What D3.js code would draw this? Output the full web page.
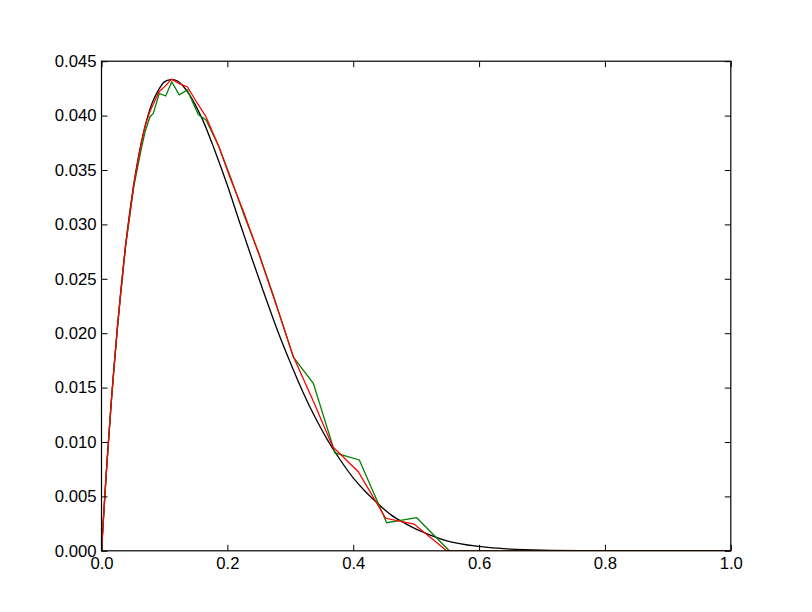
<!DOCTYPE html>
<html>
<head>
<meta charset="utf-8">
<script src="https://cdn.jsdelivr.net/npm/d3@7"></script>
<style>
  html, body { margin: 0; padding: 0; background: #fff; }
  svg { display: block; }
  .tick text { font-family: "Liberation Sans", Arial, sans-serif; font-size: 16.7px; fill: #000; }
  .tick line { stroke: #000; stroke-width: 1; }
</style>
</head>
<body>
<script>
// ---- data ----
const xTicks = [0.0, 0.2, 0.4, 0.6, 0.8, 1.0];
const yTicks = [0.000, 0.005, 0.010, 0.015, 0.020, 0.025, 0.030, 0.035, 0.040, 0.045];

// smooth black curve
const blackX = [0, 0.005, 0.01, 0.02, 0.03, 0.04, 0.05, 0.06, 0.07, 0.08, 0.09, 0.10, 0.11, 0.12, 0.13, 0.14, 0.16,
                0.18, 0.20, 0.22, 0.24, 0.26, 0.28, 0.30, 0.32, 0.34, 0.36, 0.38, 0.40, 0.42, 0.44, 0.46, 0.48,
                0.50, 0.55, 0.60, 0.65, 0.70, 0.80, 0.90, 1.00];
const blackY = [0, 0.0048, 0.0092, 0.0170, 0.0235, 0.0289, 0.0332, 0.0366, 0.0392, 0.0411, 0.0423, 0.0431, 0.0433,
                0.0432, 0.0427, 0.0419, 0.0397, 0.0368, 0.0336, 0.0301, 0.0267, 0.0234, 0.0202, 0.0173, 0.0146,
                0.0122, 0.0101, 0.0083, 0.0067, 0.0054, 0.0043, 0.0033, 0.0026, 0.0020, 0.0009, 0.0004,
                0.00015, 0.00005, 0.0, 0.0, 0.0];

// green (jagged) line
const greenX = [0, 0.0023, 0.0079, 0.0155, 0.0256, 0.0381, 0.0514, 0.0627, 0.0692, 0.0771, 0.0823, 0.0918, 0.102,
                0.1116, 0.1236, 0.1363, 0.1538, 0.1661, 0.1861, 0.2054, 0.2268, 0.2504, 0.2740, 0.3048, 0.3366,
                0.371, 0.4097, 0.4532, 0.5009, 0.5527, 0.61, 0.68, 0.75, 0.83, 0.91, 1.0];
const greenY = [0, 0.0022, 0.0074, 0.0137, 0.0208, 0.0279, 0.0335, 0.0368, 0.0385, 0.0399, 0.0402, 0.04205, 0.0418,
                0.0431, 0.0419, 0.04235, 0.0401, 0.0396, 0.0372, 0.0343, 0.0308, 0.0273, 0.0233, 0.0178, 0.0154,
                0.0090, 0.00835, 0.00258, 0.00304, 0, 0, 0, 0, 0, 0, 0];

// red (smoother) line
const redX = [0, 0.0023, 0.0079, 0.0155, 0.0256, 0.0381, 0.0514, 0.0627, 0.0692, 0.0764, 0.0843, 0.0914, 0.1028,
              0.1110, 0.1252, 0.1363, 0.1538, 0.166, 0.1861, 0.2030, 0.2268, 0.2504, 0.2765, 0.3052, 0.337,
              0.3674, 0.408, 0.4516, 0.4966, 0.5485, 0.61, 0.68, 0.75, 0.83, 0.91, 1.0];
const redY = [0, 0.0022, 0.0074, 0.0137, 0.0208, 0.0280, 0.0337, 0.0373, 0.0390, 0.0403, 0.0413, 0.0422, 0.0428,
              0.04335, 0.0429, 0.04266, 0.0410, 0.0399, 0.0372, 0.0345, 0.0310, 0.0272, 0.0228, 0.0178, 0.0137,
              0.00957, 0.00727, 0.00299, 0.00246, 0, 0, 0, 0, 0, 0, 0];

// ---- layout ----
const W = 812, H = 612;
const mLeft = 101.5, mRight = 730.8, mTop = 61.2, mBottom = 550.8;

const svg = d3.select("body").append("svg").attr("width", W).attr("height", H);

const x = d3.scaleLinear().domain([0, 1]).range([mLeft, mRight]);
const y = d3.scaleLinear().domain([0, 0.045]).range([mBottom, mTop]);

svg.append("clipPath").attr("id", "clip")
  .append("rect").attr("x", mLeft).attr("y", mTop - 2).attr("width", mRight - mLeft).attr("height", mBottom - mTop + 2);

const plot = svg.append("g").attr("clip-path", "url(#clip)");

function series(xs, ys) { return xs.map((v, i) => [v, ys[i]]); }

plot.append("path")
  .datum(series(blackX, blackY))
  .attr("fill", "none").attr("stroke", "#000").attr("stroke-width", 1.3)
  .attr("d", d3.line().x(d => x(d[0])).y(d => y(d[1])).curve(d3.curveCatmullRom.alpha(0.5)));

plot.append("path")
  .datum(series(greenX, greenY))
  .attr("fill", "none").attr("stroke", "#008000").attr("stroke-width", 1.3)
  .attr("d", d3.line().x(d => x(d[0])).y(d => y(d[1])));

plot.append("path")
  .datum(series(redX, redY))
  .attr("fill", "none").attr("stroke", "#ff0000").attr("stroke-width", 1.3)
  .attr("d", d3.line().x(d => x(d[0])).y(d => y(d[1])));

// ---- axes ----
const tickLen = 6;
const gB = svg.append("g").attr("transform", `translate(0,${mBottom})`)
  .call(d3.axisBottom(x).tickValues(xTicks).tickFormat(d3.format(".1f")).tickSizeInner(-tickLen).tickSizeOuter(0).tickPadding(6));
const gL = svg.append("g").attr("transform", `translate(${mLeft},0)`)
  .call(d3.axisLeft(y).tickValues(yTicks).tickFormat(d3.format(".3f")).tickSizeInner(-tickLen).tickSizeOuter(0).tickPadding(5));
const gT = svg.append("g").attr("transform", `translate(0,${mTop})`)
  .call(d3.axisTop(x).tickValues(xTicks).tickFormat("").tickSizeInner(-tickLen).tickSizeOuter(0));
const gR = svg.append("g").attr("transform", `translate(${mRight},0)`)
  .call(d3.axisRight(y).tickValues(yTicks).tickFormat("").tickSizeInner(-tickLen).tickSizeOuter(0));

[gB, gL, gT, gR].forEach(g => { g.select(".domain").remove(); g.attr("font-size", null).attr("font-family", null); });

svg.append("rect")
  .attr("x", mLeft).attr("y", mTop).attr("width", mRight - mLeft).attr("height", mBottom - mTop)
  .attr("fill", "none").attr("stroke", "#000").attr("stroke-width", 1.2);
</script>
</body>
</html>
